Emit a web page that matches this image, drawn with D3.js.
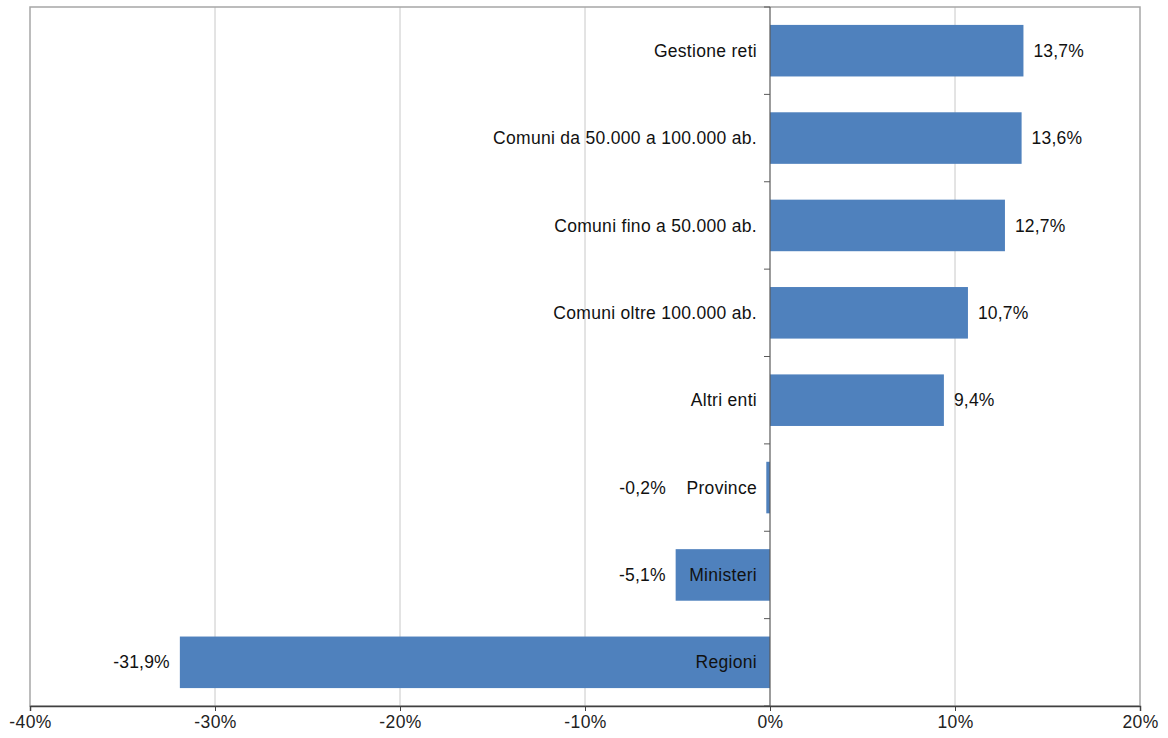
<!DOCTYPE html>
<html lang="it">
<head>
<meta charset="utf-8">
<title>Variazione per comparto</title>
<script src="https://d3js.org/d3.v7.min.js"></script>
<style>
  body { margin: 0; background: #fff; }
  text { font-family: "Liberation Sans", Arial, sans-serif; }
</style>
</head>
<body>
<svg id="chart"></svg>
<script>
// data
let categories = ["Gestione reti", "Comuni da 50.000 a 100.000 ab.", "Comuni fino a 50.000 ab.",
    "Comuni oltre 100.000 ab.", "Altri enti", "Province", "Ministeri", "Regioni"];
let values = [13.7, 13.6, 12.7, 10.7, 9.4, -0.2, -5.1, -31.9];
let xTicks = [-40, -30, -20, -10, 0, 10, 20];

let W = 1168, H = 738;
let margin = {top: 7, right: 28, bottom: 32, left: 30};
let iw = W - margin.left - margin.right;
let ih = H - margin.top - margin.bottom;
let fontSize = "17.5px";

let svg = d3.select("#chart").attr("width", W).attr("height", H);
let g = svg.append("g").attr("transform", "translate(" + margin.left + "," + margin.top + ")");

let x = d3.scaleLinear().domain([-40, 20]).range([0, iw]);
let y = d3.scaleBand().domain(categories).range([0, ih]).paddingInner(0.41).paddingOuter(0.205);

let fmt = v => d3.format(".1f")(v).replace("−", "-").replace(".", ",") + "%";

// grid lines
g.selectAll("line.grid")
    .data(xTicks.filter(t => t !== 0 && t !== -40 && t !== 20))
    .enter().append("line")
    .attr("class", "grid")
    .attr("x1", d => x(d)).attr("x2", d => x(d))
    .attr("y1", 0).attr("y2", ih)
    .attr("stroke", "#c8c8c8").attr("stroke-width", 1);

// plot border
g.append("rect")
    .attr("x", 0).attr("y", 0).attr("width", iw).attr("height", ih)
    .attr("fill", "none").attr("stroke", "#a6a6a6").attr("stroke-width", 1.5);

// bars
g.selectAll("rect.bar")
    .data(values)
    .enter().append("rect")
    .attr("class", "bar")
    .attr("x", d => x(Math.min(0, d)))
    .attr("width", d => Math.abs(x(d) - x(0)))
    .attr("y", (d, i) => y(categories[i]))
    .attr("height", y.bandwidth())
    .attr("fill", "#4f81bd");

// zero axis
g.append("line")
    .attr("x1", x(0)).attr("x2", x(0)).attr("y1", 0).attr("y2", ih)
    .attr("stroke", "#595959").attr("stroke-width", 1.2);

// category boundary ticks
let bounds = d3.range(categories.length + 1).map(i => i * y.step());
g.selectAll("line.ytick")
    .data(bounds)
    .enter().append("line")
    .attr("class", "ytick")
    .attr("x1", x(0) - 6).attr("x2", x(0))
    .attr("y1", d => d).attr("y2", d => d)
    .attr("stroke", "#595959").attr("stroke-width", 1);

// bottom axis
let xAxis = d3.axisBottom(x).tickValues(xTicks).tickFormat(d => d + "%").tickSize(5).tickPadding(5);
let ax = g.append("g").attr("transform", "translate(0," + ih + ")").call(xAxis);
ax.select(".domain").attr("stroke", "#404040").attr("stroke-width", 1.5);
ax.selectAll(".tick line").attr("stroke", "#404040");
ax.selectAll("text").attr("font-size", fontSize).attr("fill", "#222")
    .style("font-family", "'Liberation Sans', Arial, sans-serif")
    .style("letter-spacing", "0.4px");

// category labels
g.selectAll("text.cat")
    .data(categories)
    .enter().append("text")
    .attr("class", "cat")
    .attr("x", x(0) - 13)
    .attr("y", d => y(d) + y.bandwidth() / 2)
    .attr("dy", "0.35em")
    .attr("text-anchor", "end")
    .attr("font-size", fontSize)
    .style("letter-spacing", "0.3px")
    .attr("fill", "#111")
    .text(d => d);

// value labels
g.selectAll("text.val")
    .data(values)
    .enter().append("text")
    .attr("class", "val")
    .attr("x", d => d >= 0 ? x(d) + 10 : Math.min(x(d), x(0) - 94) - 10)
    .attr("y", (d, i) => y(categories[i]) + y.bandwidth() / 2)
    .attr("dy", "0.35em")
    .attr("text-anchor", d => d >= 0 ? "start" : "end")
    .attr("font-size", fontSize)
    .style("letter-spacing", "0.2px")
    .attr("fill", "#111")
    .text(d => fmt(d));
</script>
</body>
</html>
